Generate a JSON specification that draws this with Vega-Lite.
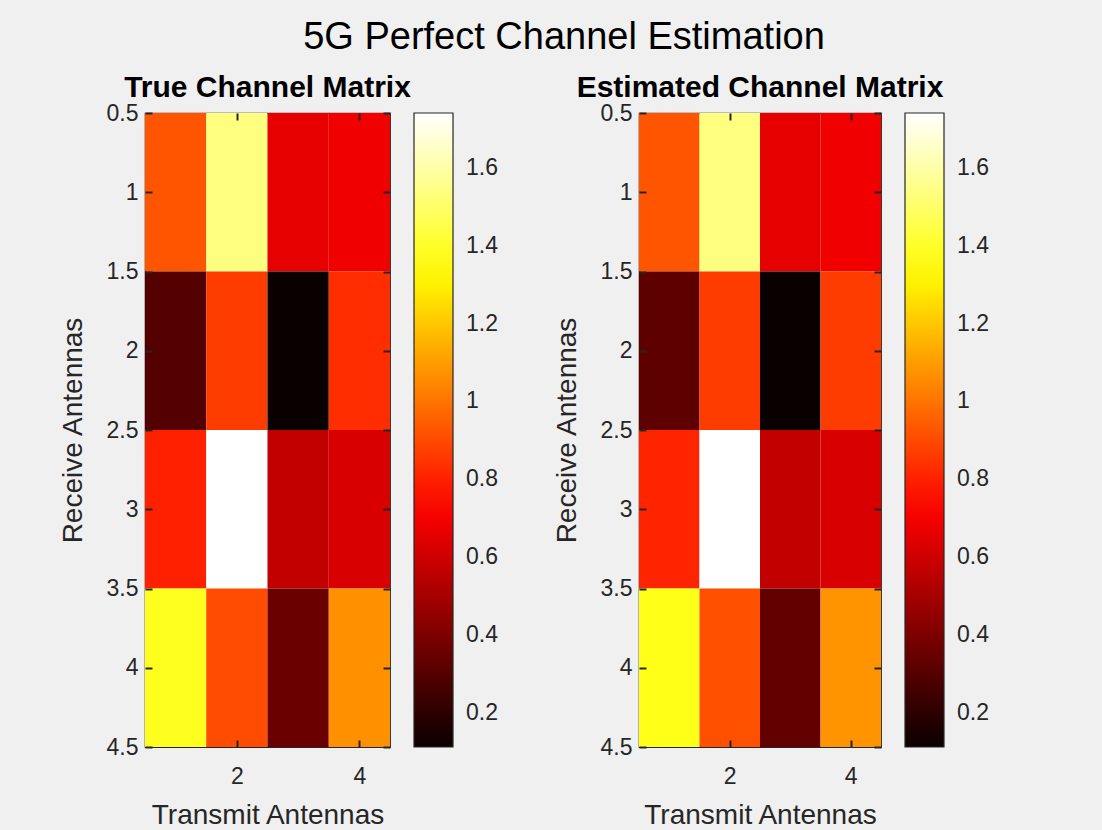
{
  "$schema": "https://vega.github.io/schema/vega-lite/v6.json",
  "background": "#f0f0f0",
  "padding": {"left": 58, "top": 19, "right": 143, "bottom": 3},
  "title": {"text": "5G Perfect Channel Estimation", "fontSize": 38, "fontWeight": "normal", "font": "Liberation Sans", "color": "#000000", "anchor": "middle", "offset": 15, "dx": 40},
  "datasets": {
    "cells": [
      {"m": "True", "tx": 1, "rx": 1, "v": 0.927},
      {"m": "True", "tx": 2, "rx": 1, "v": 1.537},
      {"m": "True", "tx": 3, "rx": 1, "v": 0.663},
      {"m": "True", "tx": 4, "rx": 1, "v": 0.687},
      {"m": "True", "tx": 1, "rx": 2, "v": 0.296},
      {"m": "True", "tx": 2, "rx": 2, "v": 0.866},
      {"m": "True", "tx": 3, "rx": 2, "v": 0.112},
      {"m": "True", "tx": 4, "rx": 2, "v": 0.830},
      {"m": "True", "tx": 1, "rx": 3, "v": 0.799},
      {"m": "True", "tx": 2, "rx": 3, "v": 1.741},
      {"m": "True", "tx": 3, "rx": 3, "v": 0.571},
      {"m": "True", "tx": 4, "rx": 3, "v": 0.625},
      {"m": "True", "tx": 1, "rx": 4, "v": 1.384},
      {"m": "True", "tx": 2, "rx": 4, "v": 0.905},
      {"m": "True", "tx": 3, "rx": 4, "v": 0.351},
      {"m": "True", "tx": 4, "rx": 4, "v": 1.068},
      {"m": "Est", "tx": 1, "rx": 1, "v": 0.927},
      {"m": "Est", "tx": 2, "rx": 1, "v": 1.537},
      {"m": "Est", "tx": 3, "rx": 1, "v": 0.663},
      {"m": "Est", "tx": 4, "rx": 1, "v": 0.687},
      {"m": "Est", "tx": 1, "rx": 2, "v": 0.322},
      {"m": "Est", "tx": 2, "rx": 2, "v": 0.866},
      {"m": "Est", "tx": 3, "rx": 2, "v": 0.112},
      {"m": "Est", "tx": 4, "rx": 2, "v": 0.866},
      {"m": "Est", "tx": 1, "rx": 3, "v": 0.809},
      {"m": "Est", "tx": 2, "rx": 3, "v": 1.741},
      {"m": "Est", "tx": 3, "rx": 3, "v": 0.571},
      {"m": "Est", "tx": 4, "rx": 3, "v": 0.625},
      {"m": "Est", "tx": 1, "rx": 4, "v": 1.371},
      {"m": "Est", "tx": 2, "rx": 4, "v": 0.915},
      {"m": "Est", "tx": 3, "rx": 4, "v": 0.332},
      {"m": "Est", "tx": 4, "rx": 4, "v": 1.078}
    ]
  },
  "data": {"name": "cells"},
  "spacing": 53,
  "resolve": {"scale": {"color": "independent"}},
  "hconcat": [
    {
      "width": 245,
      "height": 634,
      "title": {"text": "True Channel Matrix", "frame": "group", "fontSize": 30, "fontWeight": "bold", "font": "Liberation Sans", "color": "#000000", "offset": -1},
      "transform": [
        {"filter": "datum.m == 'True'"},
        {"calculate": "datum.tx - 0.5", "as": "x0"},
        {"calculate": "datum.tx + 0.5", "as": "x1"},
        {"calculate": "datum.rx - 0.5", "as": "y0"},
        {"calculate": "datum.rx + 0.5", "as": "y1"}
      ],
      "layer": [
        {
          "mark": {"type": "rect", "strokeWidth": 0},
          "encoding": {
            "x": {"field": "x0", "type": "quantitative", "scale": {"domain": [0.5, 4.5], "nice": false, "zero": false}, "axis": {"orient": "bottom", "values": [2, 4], "title": "Transmit Antennas", "labelPadding": 25, "titlePadding": 13, "ticks": true, "tickSize": -7, "zindex": 2}},
            "x2": {"field": "x1"},
            "y": {"field": "y0", "type": "quantitative", "scale": {"domain": [0.5, 4.5], "nice": false, "zero": false, "reverse": true}, "axis": {"orient": "left", "values": [0.5, 1, 1.5, 2, 2.5, 3, 3.5, 4, 4.5], "format": ".1~f", "title": "Receive Antennas", "labelPadding": 14, "titlePadding": 19, "ticks": true, "tickSize": -7, "zindex": 2}},
            "y2": {"field": "y1"},
            "color": {"field": "v", "type": "quantitative", "scale": {"domain": [0.112, 0.723, 1.334, 1.741], "range": ["#0a0000", "#ff0000", "#ffff00", "#ffffff"], "interpolate": "rgb"}, "legend": {"title": null, "values": [0.2, 0.4, 0.6, 0.8, 1, 1.2, 1.4, 1.6], "format": ".1~f", "offset": 23, "labelOffset": 13}}
          }
        },
        {
          "mark": {"type": "rect", "opacity": 0},
          "encoding": {
            "x": {"field": "x0", "type": "quantitative", "axis": {"orient": "top", "values": [2, 4], "labels": false, "title": null, "ticks": true, "tickSize": -7, "zindex": 2, "minExtent": 0, "maxExtent": 0}},
            "x2": {"field": "x1"},
            "y": {"field": "y0", "type": "quantitative", "axis": {"orient": "right", "values": [0.5, 1, 1.5, 2, 2.5, 3, 3.5, 4, 4.5], "labels": false, "title": null, "ticks": true, "tickSize": -7, "zindex": 2, "minExtent": 0, "maxExtent": 0}},
            "y2": {"field": "y1"}
          }
        }
      ],
      "resolve": {"axis": {"x": "independent", "y": "independent"}}
    },
    {
      "width": 242,
      "height": 634,
      "title": {"text": "Estimated Channel Matrix", "frame": "group", "fontSize": 30, "fontWeight": "bold", "font": "Liberation Sans", "color": "#000000", "offset": -1},
      "transform": [
        {"filter": "datum.m == 'Est'"},
        {"calculate": "datum.tx - 0.5", "as": "x0"},
        {"calculate": "datum.tx + 0.5", "as": "x1"},
        {"calculate": "datum.rx - 0.5", "as": "y0"},
        {"calculate": "datum.rx + 0.5", "as": "y1"}
      ],
      "layer": [
        {
          "mark": {"type": "rect", "strokeWidth": 0},
          "encoding": {
            "x": {"field": "x0", "type": "quantitative", "scale": {"domain": [0.5, 4.5], "nice": false, "zero": false}, "axis": {"orient": "bottom", "values": [2, 4], "title": "Transmit Antennas", "labelPadding": 25, "titlePadding": 13, "ticks": true, "tickSize": -7, "zindex": 2}},
            "x2": {"field": "x1"},
            "y": {"field": "y0", "type": "quantitative", "scale": {"domain": [0.5, 4.5], "nice": false, "zero": false, "reverse": true}, "axis": {"orient": "left", "values": [0.5, 1, 1.5, 2, 2.5, 3, 3.5, 4, 4.5], "format": ".1~f", "title": "Receive Antennas", "labelPadding": 14, "titlePadding": 19, "ticks": true, "tickSize": -7, "zindex": 2}},
            "y2": {"field": "y1"},
            "color": {"field": "v", "type": "quantitative", "scale": {"domain": [0.112, 0.723, 1.334, 1.741], "range": ["#0a0000", "#ff0000", "#ffff00", "#ffffff"], "interpolate": "rgb"}, "legend": {"title": null, "values": [0.2, 0.4, 0.6, 0.8, 1, 1.2, 1.4, 1.6], "format": ".1~f", "offset": 23, "labelOffset": 13}}
          }
        },
        {
          "mark": {"type": "rect", "opacity": 0},
          "encoding": {
            "x": {"field": "x0", "type": "quantitative", "axis": {"orient": "top", "values": [2, 4], "labels": false, "title": null, "ticks": true, "tickSize": -7, "zindex": 2, "minExtent": 0, "maxExtent": 0}},
            "x2": {"field": "x1"},
            "y": {"field": "y0", "type": "quantitative", "axis": {"orient": "right", "values": [0.5, 1, 1.5, 2, 2.5, 3, 3.5, 4, 4.5], "labels": false, "title": null, "ticks": true, "tickSize": -7, "zindex": 2, "minExtent": 0, "maxExtent": 0}},
            "y2": {"field": "y1"}
          }
        }
      ],
      "resolve": {"axis": {"x": "independent", "y": "independent"}}
    }
  ],
  "config": {
    "font": "Liberation Sans",
    "view": {"stroke": "#262626", "strokeWidth": 1.2},
    "axis": {
      "labelFont": "Liberation Sans",
      "titleFont": "Liberation Sans",
      "labelFontSize": 23,
      "titleFontSize": 28,
      "titleFontWeight": "normal",
      "labelColor": "#262626",
      "titleColor": "#262626",
      "tickColor": "#262626",
      "tickWidth": 2,
      "domain": false,
      "grid": false,
      "labelFlush": false,
      "labelOverlap": false
    },
    "legend": {
      "gradientLength": 634,
      "gradientThickness": 39,
      "gradientStrokeColor": "#262626",
      "gradientStrokeWidth": 1.2,
      "labelFont": "Liberation Sans",
      "labelFontSize": 23,
      "labelColor": "#262626",
      "labelOffset": 13,
      "labelOverlap": false,
      "padding": 0,
      "direction": "vertical"
    }
  }
}
